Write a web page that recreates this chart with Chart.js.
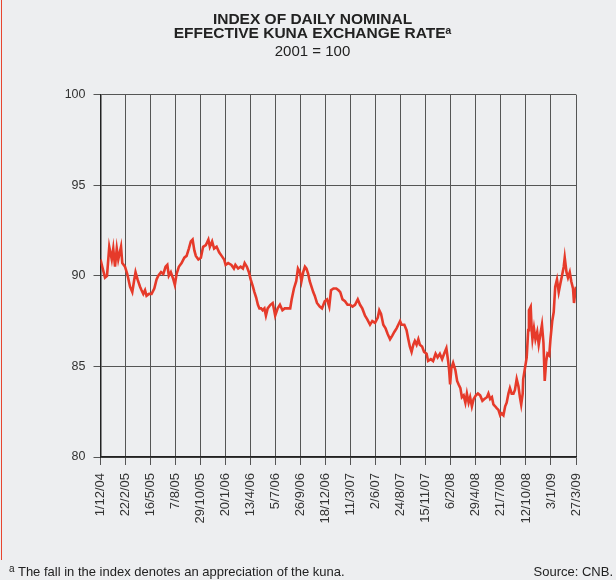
<!DOCTYPE html>
<html>
<head>
<meta charset="utf-8">
<script src="https://cdn.jsdelivr.net/npm/chart.js@4/dist/chart.umd.min.js"></script>
<style>
  html, body { margin: 0; padding: 0; background: #EDEEF0; }
  body { width: 616px; height: 580px; position: relative; overflow: hidden; font-family: "Liberation Sans", Arial, sans-serif; }
  #wrap { position: absolute; left: 0; top: 0; width: 616px; height: 580px; }
  #redline { position: absolute; left: 1px; top: 0; width: 1px; height: 560px; background: #E8452F; }
  .foot { position: absolute; font-size: 13px; line-height: 15px; color: #222; white-space: nowrap; }
  #note { left: 9px; top: 564px; }
  #note sup { font-size: 10px; vertical-align: 4px; line-height: 0; }
  #source { right: 3px; top: 564px; }
</style>
</head>
<body>
<div id="wrap"><canvas id="c" width="616" height="580"></canvas></div>
<div id="redline"></div>
<div class="foot" id="note"><sup>a</sup> The fall in the index denotes an appreciation of the kuna.</div>
<div class="foot" id="source">Source: CNB.</div>
<script>
// Tick labels (dates) of the x axis, one per tick interval
const tickLabels = ['1/12/04','22/2/05','16/5/05','7/8/05','29/10/05','20/1/06','13/4/06','5/7/06','26/9/06','18/12/06',
  '11/3/07','2/6/07','24/8/07','15/11/07','6/2/08','29/4/08','21/7/08','12/10/08','3/1/09','27/3/09'];

// Position of each observation along the date axis (in tick-interval units)
const datePos = [
  0.00,0.07,0.18,0.26,0.35,0.45,0.51,0.58,0.65,0.71,0.82,0.87,0.98,1.07,1.18,1.27,1.35,1.40,1.48,1.58,
  1.64,1.71,1.78,1.84,1.94,2.04,2.15,2.24,2.31,2.42,2.51,2.60,2.67,2.73,2.81,2.91,2.97,3.04,3.13,3.24,
  3.35,3.44,3.53,3.61,3.68,3.75,3.81,3.91,4.01,4.10,4.21,4.31,4.37,4.46,4.54,4.64,4.74,4.84,4.94,
  5.00,5.10,5.23,5.33,5.39,5.50,5.60,5.69,5.76,5.85,5.93,6.00,6.09,6.15,6.22,6.29,6.35,6.42,6.48,6.55,
  6.61,6.68,6.79,6.88,6.94,6.98,7.08,7.17,7.27,7.36,7.47,7.58,7.64,7.73,7.82,7.89,7.97,8.03,8.10,8.17,
  8.23,8.30,8.36,8.43,8.50,8.56,8.65,8.76,8.85,8.96,9.05,9.14,9.21,9.31,9.42,9.51,
  9.58,9.67,9.77,9.87,9.97,10.07,10.17,10.28,10.37,10.46,10.57,10.66,10.77,10.86,10.97,11.08,11.14,11.21,
  11.30,11.39,11.47,11.57,11.66,11.74,11.83,11.90,11.97,12.03,12.14,12.23,12.30,12.36,12.43,12.50,12.56,
  12.63,12.70,12.76,12.85,12.93,13.03,13.09,13.20,13.29,13.39,13.47,13.56,13.65,13.73,13.82,13.89,13.93,
  13.97,14.02,14.09,
  14.18,14.25,14.31,14.38,14.44,14.51,14.58,14.64,14.71,14.77,14.84,14.91,15.00,15.08,15.17,15.26,15.34,
  15.44,15.50,15.57,15.64,15.70,15.77,15.83,15.90,15.97,16.03,16.10,16.17,16.23,16.30,16.36,16.43,16.50,
  16.56,16.63,16.70,16.76,16.81,16.87,16.89,16.96,17.03,17.09,17.12,17.19,17.23,17.26,17.32,17.38,17.45,
  17.51,17.58,17.64,17.70,17.75,17.81,17.86,17.93,17.98,18.05,18.11,18.17,18.24,18.31,18.38,18.44,18.51,
  18.55,18.62,18.68,18.75,18.81,18.88,18.92,18.97,19.00
];

// Index of daily nominal effective kuna exchange rate (2001 = 100)
const indexValues = [
  90.9,90.5,89.9,90.0,91.6,90.9,91.5,90.5,91.5,90.9,91.6,90.7,90.5,90.1,89.4,89.1,89.8,90.2,89.8,89.4,
  89.2,89.0,89.2,88.9,89.0,89.0,89.3,89.8,90.0,90.2,90.1,90.5,90.6,90.0,90.2,89.8,89.5,90.1,90.5,90.7,
  91.0,91.1,91.5,91.9,92.0,91.4,91.1,90.9,91.0,91.6,91.7,92.0,91.6,91.9,91.5,91.6,91.3,91.1,90.9,
  90.6,90.7,90.6,90.4,90.6,90.4,90.5,90.4,90.7,90.5,90.2,89.8,89.4,89.1,88.8,88.4,88.2,88.2,88.1,88.2,
  87.8,88.2,88.4,88.5,88.1,87.8,88.2,88.4,88.1,88.2,88.2,88.2,88.7,89.3,89.7,90.4,90.2,89.7,90.2,90.5,
  90.4,90.1,89.7,89.4,89.1,88.9,88.5,88.3,88.2,88.6,88.7,88.3,89.2,89.3,89.3,89.2,
  89.1,88.7,88.6,88.4,88.4,88.3,88.4,88.7,88.4,88.2,87.8,87.6,87.3,87.5,87.4,87.7,88.1,87.9,
  87.3,87.1,86.8,86.5,86.7,86.9,87.1,87.3,87.5,87.3,87.3,87.0,86.5,86.1,85.8,86.2,86.4,
  86.2,86.5,86.2,86.1,85.8,85.7,85.3,85.4,85.3,85.7,85.5,85.7,85.4,85.7,86.0,85.3,84.8,
  84.0,84.9,85.2,
  84.8,84.2,84.0,83.8,83.3,83.4,83.0,83.5,83.0,83.3,82.8,83.2,83.4,83.5,83.4,83.1,83.2,
  83.3,83.5,83.2,83.3,82.9,82.8,82.7,82.6,82.3,82.4,82.3,82.8,83.0,83.5,83.8,83.5,83.5,
  83.7,84.3,83.9,83.3,82.9,83.5,84.3,84.9,85.5,87.0,88.1,88.3,87.0,86.5,87.1,86.5,86.9,
  86.2,86.8,87.3,86.3,84.2,85.3,85.7,85.6,86.5,87.5,88.0,89.4,89.8,89.1,89.6,90.0,90.5,
  91.0,90.2,89.9,90.2,89.7,89.3,88.5,89.1,89.4
];

const yTicks = [80, 85, 90, 95, 100];

const FONT = '"Liberation Sans", Arial, sans-serif';
const points = datePos.map((x, i) => ({ x: x, y: indexValues[i] }));

new Chart(document.getElementById('c'), {
  type: 'line',
  data: {
    datasets: [{
      data: points,
      borderColor: '#E63A2A',
      borderWidth: 2.6,
      pointRadius: 0,
      tension: 0,
      fill: false
    }]
  },
  options: {
    responsive: false,
    animation: false,
    events: [],
    layout: { padding: { left: 49, right: 40, top: 0, bottom: 0 } },
    plugins: {
      legend: { display: false },
      tooltip: { enabled: false },
      title: {
        display: true,
        text: ['INDEX OF DAILY NOMINAL', 'EFFECTIVE KUNA EXCHANGE RATE\u1D43'],
        color: '#222',
        font: { family: FONT, size: 15.5, weight: 'bold', lineHeight: '13.3px' },
        padding: { top: 13.3, bottom: 0 }
      },
      subtitle: {
        display: true,
        text: '2001 = 100',
        color: '#222',
        font: { family: FONT, size: 15, weight: 'normal', lineHeight: '15px' },
        padding: { top: 4.7, bottom: 35 }
      }
    },
    scales: {
      x: {
        type: 'linear',
        min: 0,
        max: tickLabels.length - 1,
        afterBuildTicks: (s) => { s.ticks = tickLabels.map((_, i) => ({ value: i })); },
        afterFit: (s) => { s.height = 123; },
        ticks: {
          autoSkip: false,
          maxRotation: 90,
          minRotation: 90,
          padding: 8,
          color: '#333',
          font: { family: FONT, size: 13 },
          callback: (v) => tickLabels[v]
        },
        grid: { color: '#555', lineWidth: 1, tickLength: 8, tickColor: '#555' },
        border: { color: '#222', width: 1.5 }
      },
      y: {
        type: 'linear',
        min: 80,
        max: 100,
        afterBuildTicks: (s) => { s.ticks = yTicks.map(v => ({ value: v })); },
        afterFit: (s) => { s.width = 51.5; },
        ticks: {
          padding: 8,
          color: '#333',
          font: { family: FONT, size: 12.5 }
        },
        grid: { color: '#555', lineWidth: 1, tickLength: 7, tickColor: '#555' },
        border: { color: '#222', width: 1.5 }
      }
    }
  }
});
</script>
</body>
</html>
